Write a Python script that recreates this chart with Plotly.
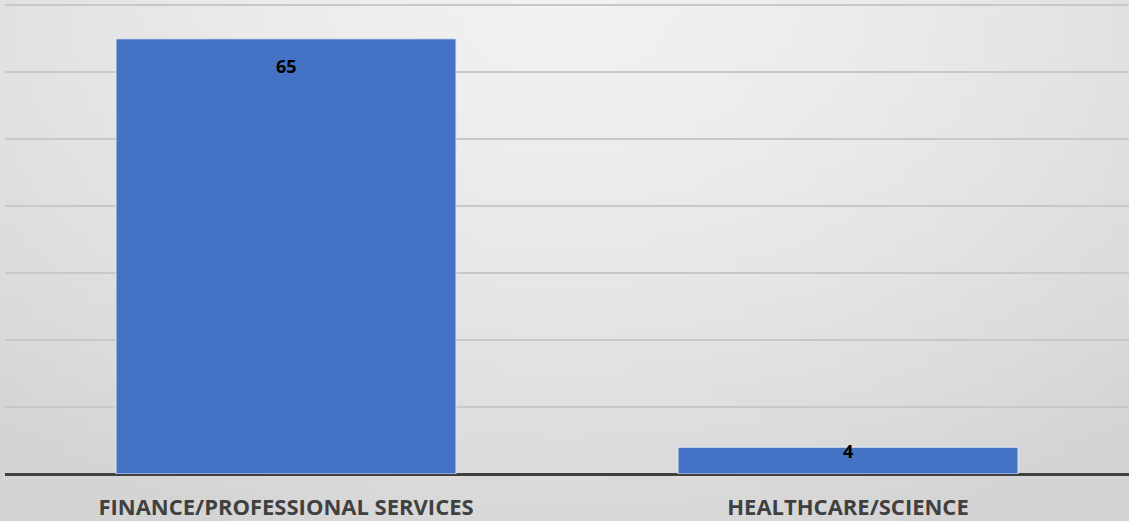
import base64, struct, zlib
import plotly.graph_objects as go

categories = ["FINANCE/PROFESSIONAL SERVICES", "HEALTHCARE/SCIENCE"]
values = [65, 4]
y_ticks = [0, 10, 20, 30, 40, 50, 60, 70]


def gradient_png(w=96, h=48):
    rows = b""
    for j in range(h):
        row = b"\x00"
        y = (j + 0.5) / h
        for i in range(w):
            x = (i + 0.5) / w
            d = (((x - 0.5) / 0.75) ** 2 + (y / 1.1) ** 2) ** 0.5
            d = min(d, 1.0)
            c = int(round(241 - 29 * d ** 1.5))
            row += bytes([c, c, c])
        rows += row

    def chunk(tag, data):
        return struct.pack(">I", len(data)) + tag + data + struct.pack(">I", zlib.crc32(tag + data) & 0xffffffff)

    png = b"\x89PNG\r\n\x1a\n"
    png += chunk(b"IHDR", struct.pack(">IIBBBBB", w, h, 8, 2, 0, 0, 0))
    png += chunk(b"IDAT", zlib.compress(rows, 9))
    png += chunk(b"IEND", b"")
    return "data:image/png;base64," + base64.b64encode(png).decode()


W, H = 1129, 521
ML, MR, MT, MB = 5, 0, 2, 47

fig = go.Figure()
fig.add_trace(go.Bar(
    x=categories, y=values,
    marker=dict(color="#4472C4", line=dict(color="#dde5f2", width=1)),
    width=0.605,
    hoverinfo="skip",
))
label_shift = [-27, -4]
for c, v, s in zip(categories, values, label_shift):
    fig.add_annotation(x=c, y=v, text=f"<b>{v}</b>", showarrow=False,
                       yanchor="middle", yshift=s,
                       font=dict(family="Open Sans", size=18, color="#000000"))

pw = W - ML - MR
ph = H - MT - MB
fig.add_layout_image(dict(
    source=gradient_png(), xref="paper", yref="paper",
    x=-ML / pw, y=1 + MT / ph, sizex=W / pw, sizey=H / ph,
    xanchor="left", yanchor="top", sizing="stretch", layer="below",
))

fig.update_layout(
    width=W, height=H,
    margin=dict(l=ML, r=MR, t=MT, b=MB, pad=0),
    paper_bgcolor="rgba(0,0,0,0)",
    plot_bgcolor="rgba(0,0,0,0)",
    showlegend=False,
    bargap=0.396,
    xaxis=dict(
        showgrid=False, zeroline=False, showline=False, ticks="",
        tickfont=dict(family="Open Sans", size=22, color="#404040"),
        ticklabelstandoff=18, automargin=False,
        tickprefix="<b>", ticksuffix="</b>",
    ),
    yaxis=dict(
        range=[0, 70.5], tickvals=y_ticks, showticklabels=False,
        showgrid=True, gridcolor="#c8c8c8", gridwidth=2,
        zeroline=True, zerolinecolor="#404040", zerolinewidth=3,
        showline=False, automargin=False,
    ),
)
fig.write_html("out.html", config={"displayModeBar": False},
               post_script="document.body.style.margin='0';document.body.style.background='#e3e3e3';")
